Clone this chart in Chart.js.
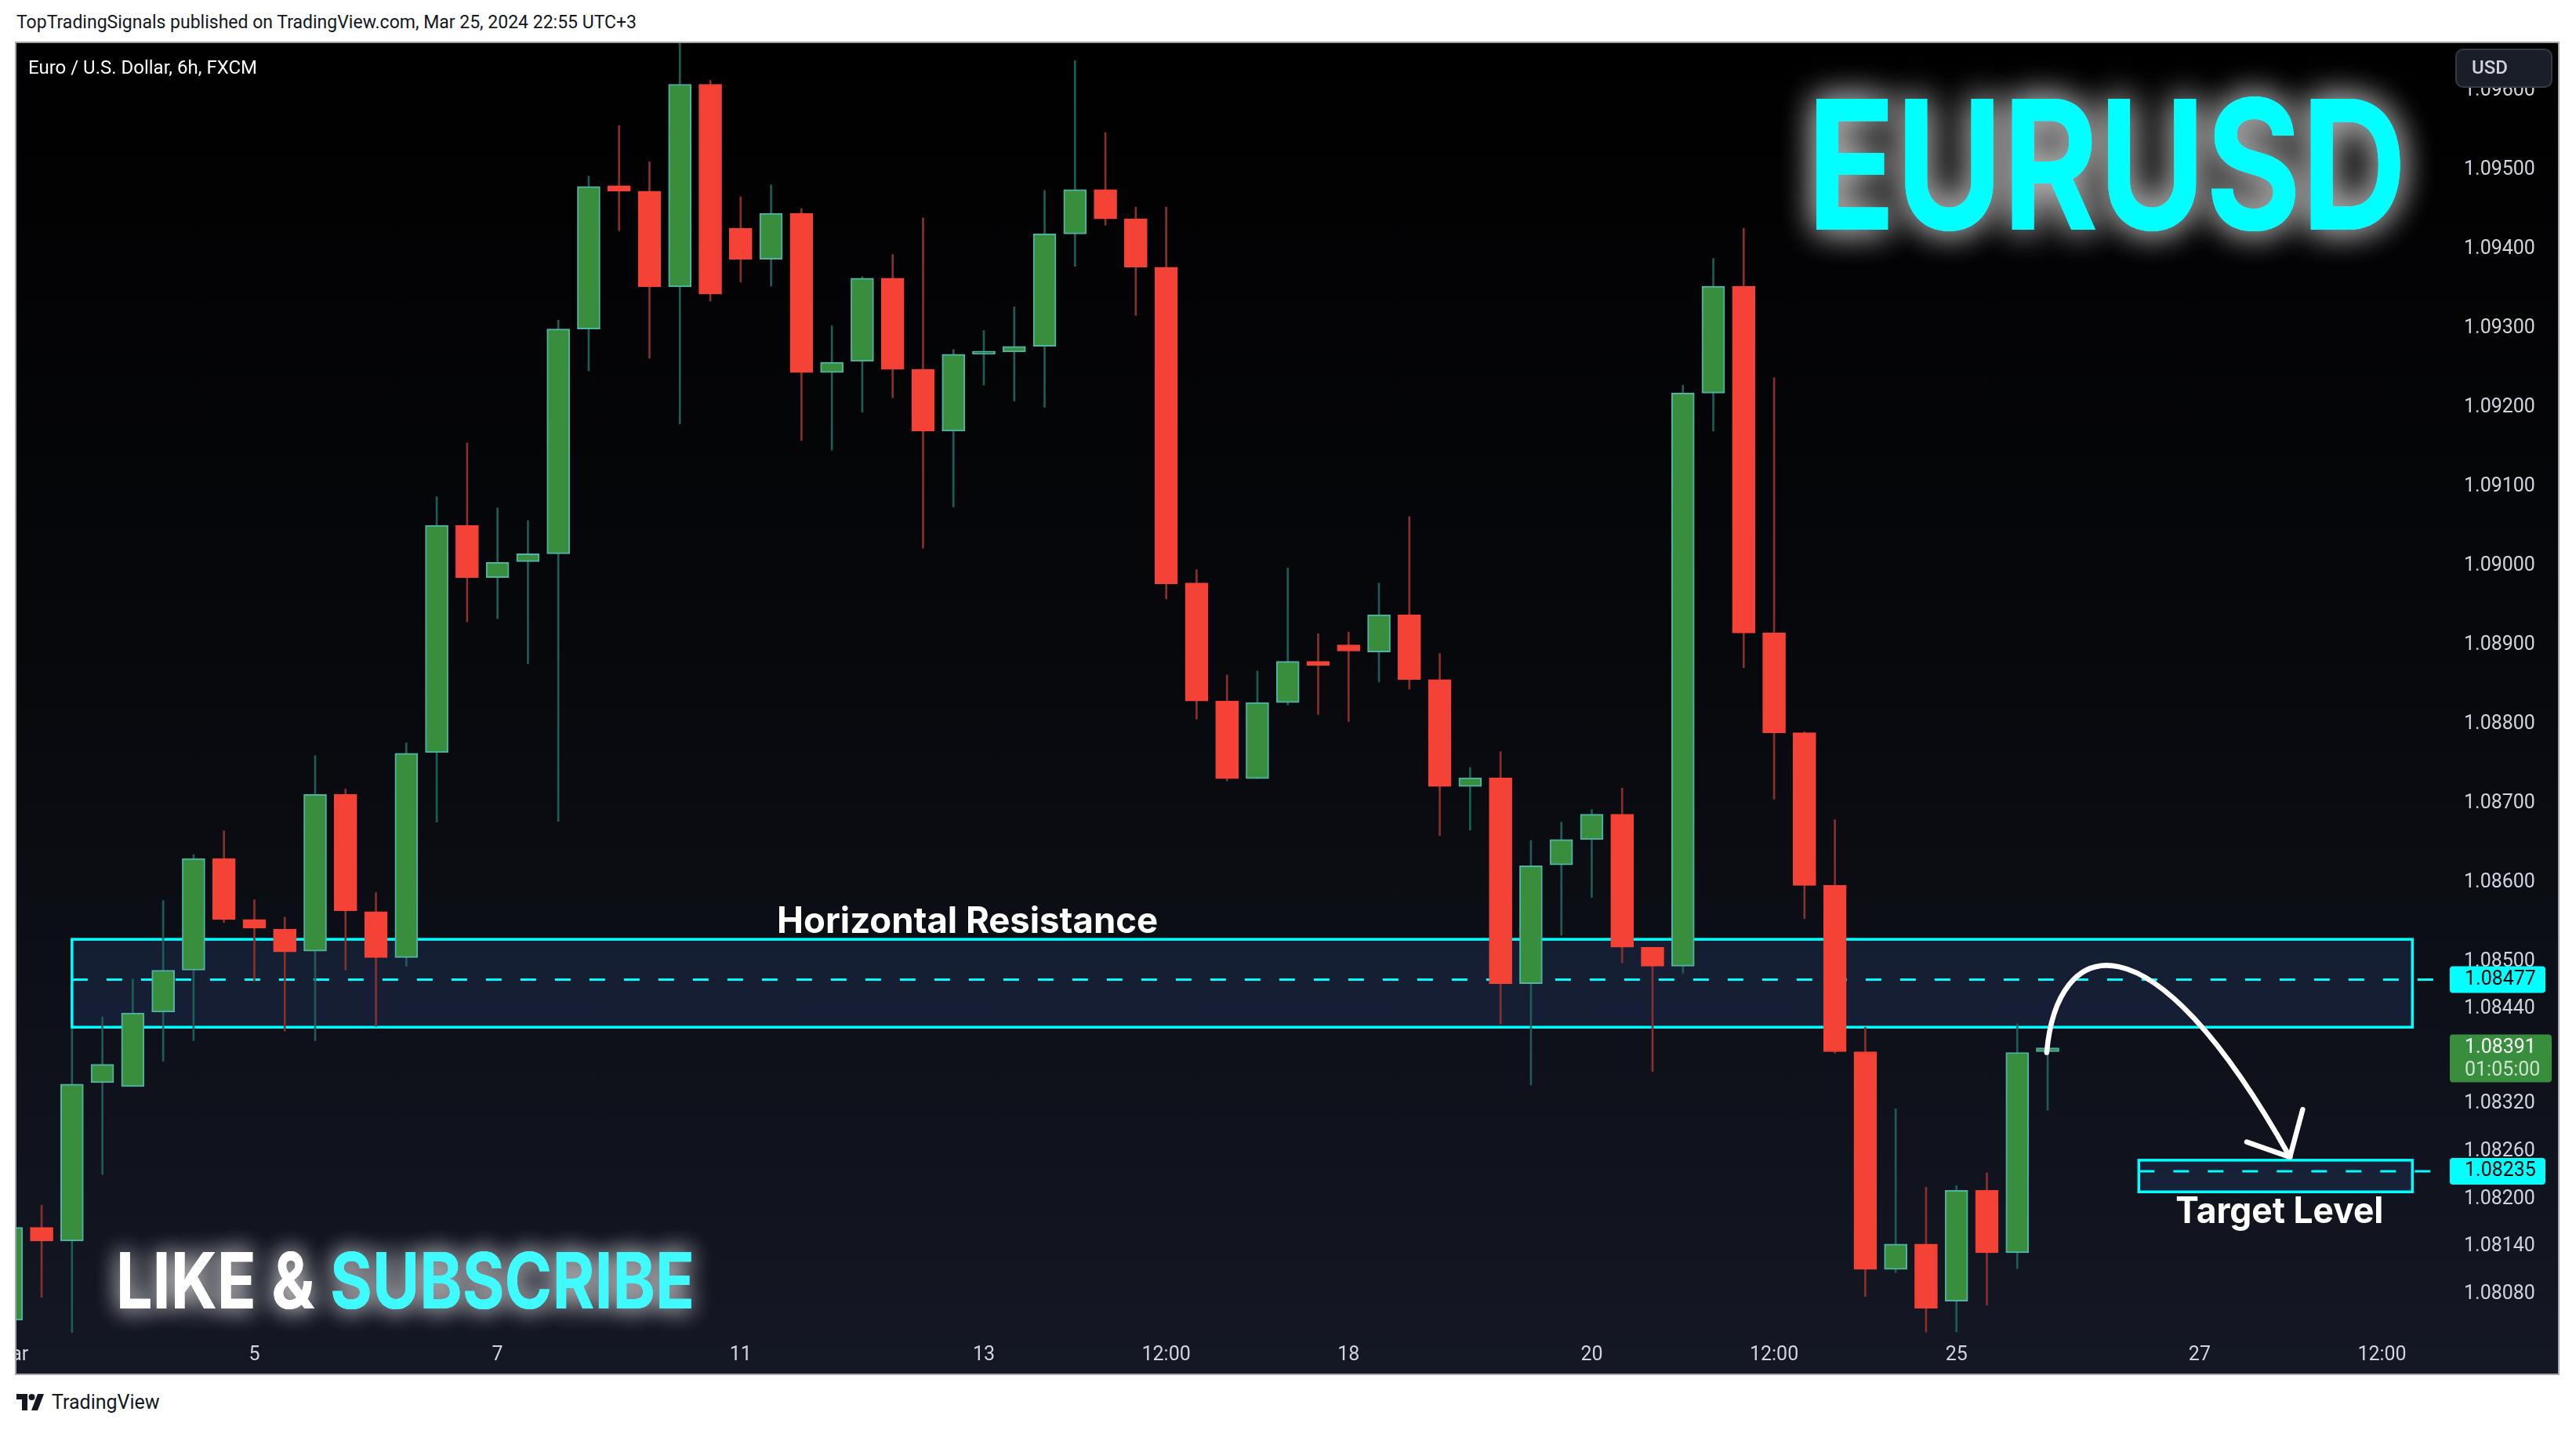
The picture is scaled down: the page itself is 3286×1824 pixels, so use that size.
<!DOCTYPE html>
<html>
<head>
<meta charset="utf-8">
<script src="https://cdn.jsdelivr.net/npm/chart.js@4.4.1/dist/chart.umd.min.js"></script>
<style>
  html, body { margin: 0; padding: 0; background: #fff; }
  body { width: 3286px; height: 1824px; position: relative; overflow: hidden; font-family: Roboto, "Liberation Sans", sans-serif; }
  #credit { position: absolute; left: 21px; top: 14px; font-size: 23px; line-height: 30px; color: #131722; white-space: nowrap; }
  #panel { position: absolute; left: 21px; top: 55px; width: 3242px; height: 1697px;
           background: linear-gradient(#000000 0%, #07080c 45%, #141824 100%); outline: 2px solid #a3a6af; }
  #panel canvas { position: absolute; left: 0; top: 0; }
  #symbol { position: absolute; left: 15px; top: 16px; font-size: 24px; line-height: 30px; color: #fff; white-space: nowrap; }
  #brand { position: absolute; left: 21px; top: 1773px; height: 30px; display: flex; align-items: center; gap: 9px;
           font-size: 25px; color: #131722; }
</style>
</head>
<body>
<div id="credit">TopTradingSignals published on TradingView.com, Mar 25, 2024 22:55 UTC+3</div>
<div id="panel">
  <canvas id="myChart" width="3242" height="1697"></canvas>
  <div id="symbol">Euro / U.S. Dollar, 6h, FXCM</div>
</div>
<div id="brand">
  <svg width="36" height="22" viewBox="0 0 36 22"><path d="M14 22H7V8H0V1h14z" fill="#131722"/><circle cx="19.5" cy="5" r="4" fill="#131722"/><path d="M27 22h-8L27 1h8z" fill="#131722"/></svg>
  <span>TradingView</span>
</div>
<script>
// 6h candles, index 0 = Mar 1 00:00
const opens = [1.08047, 1.08164, 1.08147, 1.08347, 1.08342, 1.08436, 1.08489, 1.08630, 1.08553, 1.08541,
  1.08513, 1.08711, 1.08563, 1.08505, 1.08764, 1.09051, 1.08985, 1.09005, 1.09015, 1.09299,
  1.09480, 1.09473, 1.09352, 1.09608, 1.09426, 1.09387, 1.09445, 1.09244, 1.09258, 1.09363,
  1.09248, 1.09170, 1.09267, 1.09270, 1.09277, 1.09419, 1.09475, 1.09438, 1.09377, 1.08978,
  1.08829, 1.08731, 1.08827, 1.08879, 1.08900, 1.08891, 1.08938, 1.08856, 1.08721, 1.08732,
  1.08472, 1.08622, 1.08654, 1.08686, 1.08518, 1.08494, 1.09218, 1.09353, 1.08915, 1.08789,
  1.08596, 1.08386, 1.08111, 1.08143, 1.08071, 1.08211, 1.08132, 1.08386];
const highs = [1.08185, 1.08192, 1.08415, 1.08430, 1.08478, 1.08577, 1.08635, 1.08665, 1.08578, 1.08556,
  1.08760, 1.08718, 1.08587, 1.08776, 1.09087, 1.09155, 1.09073, 1.09057, 1.09310, 1.09492,
  1.09556, 1.09510, 1.09665, 1.09613, 1.09466, 1.09481, 1.09451, 1.09303, 1.09365, 1.09393,
  1.09439, 1.09273, 1.09297, 1.09327, 1.09474, 1.09638, 1.09547, 1.09453, 1.09453, 1.08995,
  1.08862, 1.08867, 1.08997, 1.08914, 1.08916, 1.08978, 1.09062, 1.08889, 1.08745, 1.08765,
  1.08653, 1.08676, 1.08692, 1.08719, 1.08518, 1.09228, 1.09388, 1.09426, 1.09237, 1.08790,
  1.08679, 1.08417, 1.08314, 1.08215, 1.08217, 1.08233, 1.08421, 1.08400];
const lows = [1.08030, 1.08076, 1.08031, 1.08231, 1.08342, 1.08374, 1.08400, 1.08549, 1.08475, 1.08412,
  1.08400, 1.08489, 1.08418, 1.08494, 1.08676, 1.08929, 1.08933, 1.08876, 1.08677, 1.09246,
  1.09423, 1.09262, 1.09179, 1.09334, 1.09358, 1.09353, 1.09158, 1.09146, 1.09194, 1.09212,
  1.09022, 1.09074, 1.09228, 1.09208, 1.09200, 1.09378, 1.09430, 1.09316, 1.08958, 1.08806,
  1.08728, 1.08731, 1.08824, 1.08812, 1.08803, 1.08853, 1.08844, 1.08659, 1.08666, 1.08421,
  1.08344, 1.08533, 1.08581, 1.08498, 1.08361, 1.08485, 1.09170, 1.08871, 1.08705, 1.08554,
  1.08384, 1.08077, 1.08107, 1.08032, 1.08032, 1.08066, 1.08112, 1.08312];
const closes = [1.08164, 1.08147, 1.08345, 1.08370, 1.08435, 1.08489, 1.08630, 1.08553, 1.08542, 1.08512,
  1.08711, 1.08564, 1.08505, 1.08763, 1.09051, 1.08985, 1.09004, 1.09015, 1.09299, 1.09479,
  1.09473, 1.09352, 1.09608, 1.09343, 1.09387, 1.09445, 1.09244, 1.09257, 1.09363, 1.09248,
  1.09170, 1.09267, 1.09269, 1.09277, 1.09419, 1.09475, 1.09438, 1.09377, 1.08977, 1.08829,
  1.08731, 1.08827, 1.08879, 1.08874, 1.08892, 1.08938, 1.08856, 1.08721, 1.08732, 1.08472,
  1.08621, 1.08654, 1.08686, 1.08518, 1.08494, 1.09218, 1.09353, 1.08915, 1.08789, 1.08596,
  1.08386, 1.08111, 1.08143, 1.08062, 1.08211, 1.08132, 1.08385, 1.08391];

const xTickPos = [0, 8, 16, 24, 32, 38, 44, 52, 58, 64, 72, 78];
const xTickLabels = ["Mar", "5", "7", "11", "13", "12:00", "18", "20", "12:00", "25", "27", "12:00"];
const yTicks = [1.096, 1.095, 1.094, 1.093, 1.092, 1.091, 1.090, 1.089, 1.088, 1.087, 1.086, 1.085,
  1.0844, 1.0832, 1.0826, 1.0820, 1.0814, 1.0808];
const xMin = 0.173, xMax = 80.05;
const yMin = 1.08031, yMax = 1.09660;

// drawings
const resistanceZone = [1.08417, 1.08528];
const resistanceLine = 1.08477;
const targetZone = [1.08209, 1.08249];
const targetLine = 1.08235;
const zoneStart = [2, 70];
const zoneEnd = 79;
const resistanceLabelAt = 31.46;
const lastPrice = 1.08391;
const countdown = "01:05:00";
const arrowCurve = [[66.97, 1.08385], [67.3, 1.08530], [70.3, 1.08573], [74.97, 1.08253]];
const arrowHead = [[75.39, 1.08313], [73.55, 1.08272]];

const upBody = "#388e3c", upEdge = "#4fb3a6", upWick = "#1d5d57";
const downBody = "#f44336", downWick = "#8a302b";
const cyan = "#00ffff";

const isUp = opens.map((o, i) => closes[i] >= o);

const ctx = document.getElementById("myChart");

function noPad(s) {
  s.paddingLeft = 0;
  s.paddingRight = 0;
  s.paddingTop = 0;
  s.paddingBottom = 0;
}

function dashedRow(c, x, y, from, value) {
  const py = y.getPixelForValue(value);
  c.save();
  c.strokeStyle = cyan;
  c.lineWidth = 3;
  c.setLineDash([20, 24]);
  c.beginPath();
  c.moveTo(x.getPixelForValue(from), py);
  c.lineTo(x.getPixelForValue(xMax), py);
  c.stroke();
  c.restore();
}

function fitText(c, text, cx, base, width, size, weight) {
  c.font = `${weight} ${size}px Inter`;
  const sx = width / c.measureText(text).width;
  c.save();
  c.translate(cx, base);
  c.scale(sx, 1);
  c.textAlign = "center";
  c.fillText(text, 0, 0);
  c.restore();
}

function glowText(c, parts, left, base, width, size, blur) {
  c.font = `700 ${size}px Inter`;
  const whole = parts.map((p) => p[0]).join("");
  const sx = width / c.measureText(whole).width;
  for (let pass = 0; pass < 2; pass++) {
    c.save();
    c.translate(left, base);
    c.scale(sx, 1);
    c.shadowColor = "rgba(255,255,255,0.6)";
    c.shadowBlur = blur;
    let cx = 0;
    parts.forEach(([t, col]) => {
      c.fillStyle = col;
      c.fillText(t, cx, 0);
      cx += c.measureText(t).width;
    });
    c.restore();
  }
}

function priceBox(c, area, y, value, bg, lines, w) {
  const py = y.getPixelForValue(value);
  const h = lines.length > 1 ? 61 : 34;
  const top = py - 17;
  c.save();
  c.fillStyle = bg;
  c.beginPath();
  c.roundRect(area.right + 7, top, w, h, 4);
  c.fill();
  c.font = "25px Roboto";
  c.textBaseline = "middle";
  lines.forEach(([t, col], k) => {
    c.fillStyle = col;
    c.fillText(t, area.right + 26, py + k * 29);
  });
  c.restore();
}

const drawings = {
  id: "drawings",
  beforeDatasetsDraw(chart) {
    const { ctx: c, chartArea: a, scales: { x, y } } = chart;
    c.save();
    c.beginPath();
    c.rect(a.left, a.top, a.right - a.left, a.bottom - a.top);
    c.clip();
    [resistanceZone, targetZone].forEach((z, k) => {
      const x0 = x.getPixelForValue(zoneStart[k]);
      const x1 = x.getPixelForValue(zoneEnd);
      const y0 = y.getPixelForValue(z[1]);
      const y1 = y.getPixelForValue(z[0]);
      c.fillStyle = "rgba(32, 48, 86, 0.45)";
      c.fillRect(x0, y0, x1 - x0, y1 - y0);
      c.strokeStyle = cyan;
      c.lineWidth = 3.5;
      c.strokeRect(x0, y0, x1 - x0, y1 - y0);
    });
    dashedRow(c, x, y, zoneStart[0], resistanceLine);
    dashedRow(c, x, y, zoneStart[1], targetLine);
    c.restore();
  },
  afterDatasetsDraw(chart) {
    const { ctx: c, scales: { x, y } } = chart;
    const P = (p) => [x.getPixelForValue(p[0]), y.getPixelForValue(p[1])];
    // arrow
    const [s, c1, c2, e] = arrowCurve.map(P);
    c.save();
    c.strokeStyle = "#ffffff";
    c.lineWidth = 6.5;
    c.lineCap = "round";
    c.lineJoin = "round";
    c.beginPath();
    c.moveTo(s[0], s[1]);
    c.bezierCurveTo(c1[0], c1[1], c2[0], c2[1], e[0], e[1]);
    c.stroke();
    arrowHead.map(P).forEach((h) => {
      c.beginPath();
      c.moveTo(h[0], h[1]);
      c.lineTo(e[0], e[1]);
      c.stroke();
    });
    // labels
    c.fillStyle = "#ffffff";
    fitText(c, "Horizontal Resistance", x.getPixelForValue(resistanceLabelAt),
      y.getPixelForValue(resistanceZone[1]) - 8, 486, 46, 700);
    fitText(c, "Target Level", (x.getPixelForValue(zoneStart[1]) + x.getPixelForValue(zoneEnd)) / 2 + 5,
      y.getPixelForValue(targetZone[0]) + 40, 265, 46, 700);
    c.restore();
    // big titles
    c.save();
    glowText(c, [["EURUSD", cyan]], 2284, 238, 765, 230, 44);
    glowText(c, [["LIKE & ", "#ffffff"], ["SUBSCRIBE", "#3ffbff"]], 127, 1614, 738, 99, 30);
    c.restore();
  },
  afterDraw(chart) {
    const { ctx: c, chartArea: a, scales: { y } } = chart;
    priceBox(c, a, y, resistanceLine, cyan, [["1.08477", "#000000"]], 122);
    priceBox(c, a, y, lastPrice, "#388e3c", [[lastPrice.toFixed(5), "#ffffff"], [countdown, "rgba(255,255,255,0.75)"]], 130);
    priceBox(c, a, y, targetLine, cyan, [["1.08235", "#000000"]], 122);
    // currency button
    c.save();
    c.fillStyle = "#1a1e29";
    c.strokeStyle = "#363a45";
    c.lineWidth = 2;
    c.beginPath();
    c.roundRect(a.right + 15, 8, 122, 48, 9);
    c.fill();
    c.stroke();
    c.fillStyle = "#d1d4dc";
    c.font = "500 24px Roboto";
    c.textBaseline = "middle";
    c.fillText("USD", a.right + 35, 33);
    c.restore();
  },
};

const myChart = new Chart(ctx, {
  type: "bar",
  data: {
    datasets: [
      {
        data: opens.map((o, i) => ({ x: i, y: [o, closes[i]] })),
        backgroundColor: isUp.map((u) => (u ? upBody : downBody)),
        borderColor: isUp.map((u) => (u ? upEdge : downBody)),
        borderWidth: 2,
        borderSkipped: false,
        barThickness: 29,
        minBarLength: 4,
        grouped: false,
      },
      {
        data: lows.map((l, i) => ({ x: i, y: [l, highs[i]] })),
        backgroundColor: isUp.map((u) => (u ? upWick : downWick)),
        borderWidth: 0,
        barThickness: 2,
        grouped: false,
      },
    ],
  },
  options: {
    responsive: false,
    devicePixelRatio: 1,
    animation: false,
    layout: { padding: 0, autoPadding: false },
    plugins: {
      legend: { display: false },
      tooltip: { enabled: false },
    },
    scales: {
      x: {
        type: "linear",
        min: xMin,
        max: xMax,
        offset: false,
        grid: { display: false, drawTicks: false },
        border: { display: false },
        afterBuildTicks: (s) => { s.ticks = xTickPos.map((v) => ({ value: v })); },
        afterFit: (s) => { s.height = 52; noPad(s); },
        ticks: {
          autoSkip: false,
          maxRotation: 0,
          padding: 14,
          color: "#d1d4dc",
          font: { family: "Roboto", size: 25 },
          callback: (v, i) => xTickLabels[i],
        },
      },
      y: {
        position: "right",
        min: yMin,
        max: yMax,
        grid: { display: false, drawTicks: false },
        border: { display: false },
        afterBuildTicks: (s) => { s.ticks = yTicks.map((v) => ({ value: v })); },
        afterFit: (s) => { s.width = 145; noPad(s); },
        ticks: {
          autoSkip: false,
          padding: 25,
          color: "#d1d4dc",
          font: { family: "Roboto", size: 25 },
          callback: (v) => v.toFixed(5),
        },
      },
    },
  },
  plugins: [drawings],
});
</script>
</body>
</html>
